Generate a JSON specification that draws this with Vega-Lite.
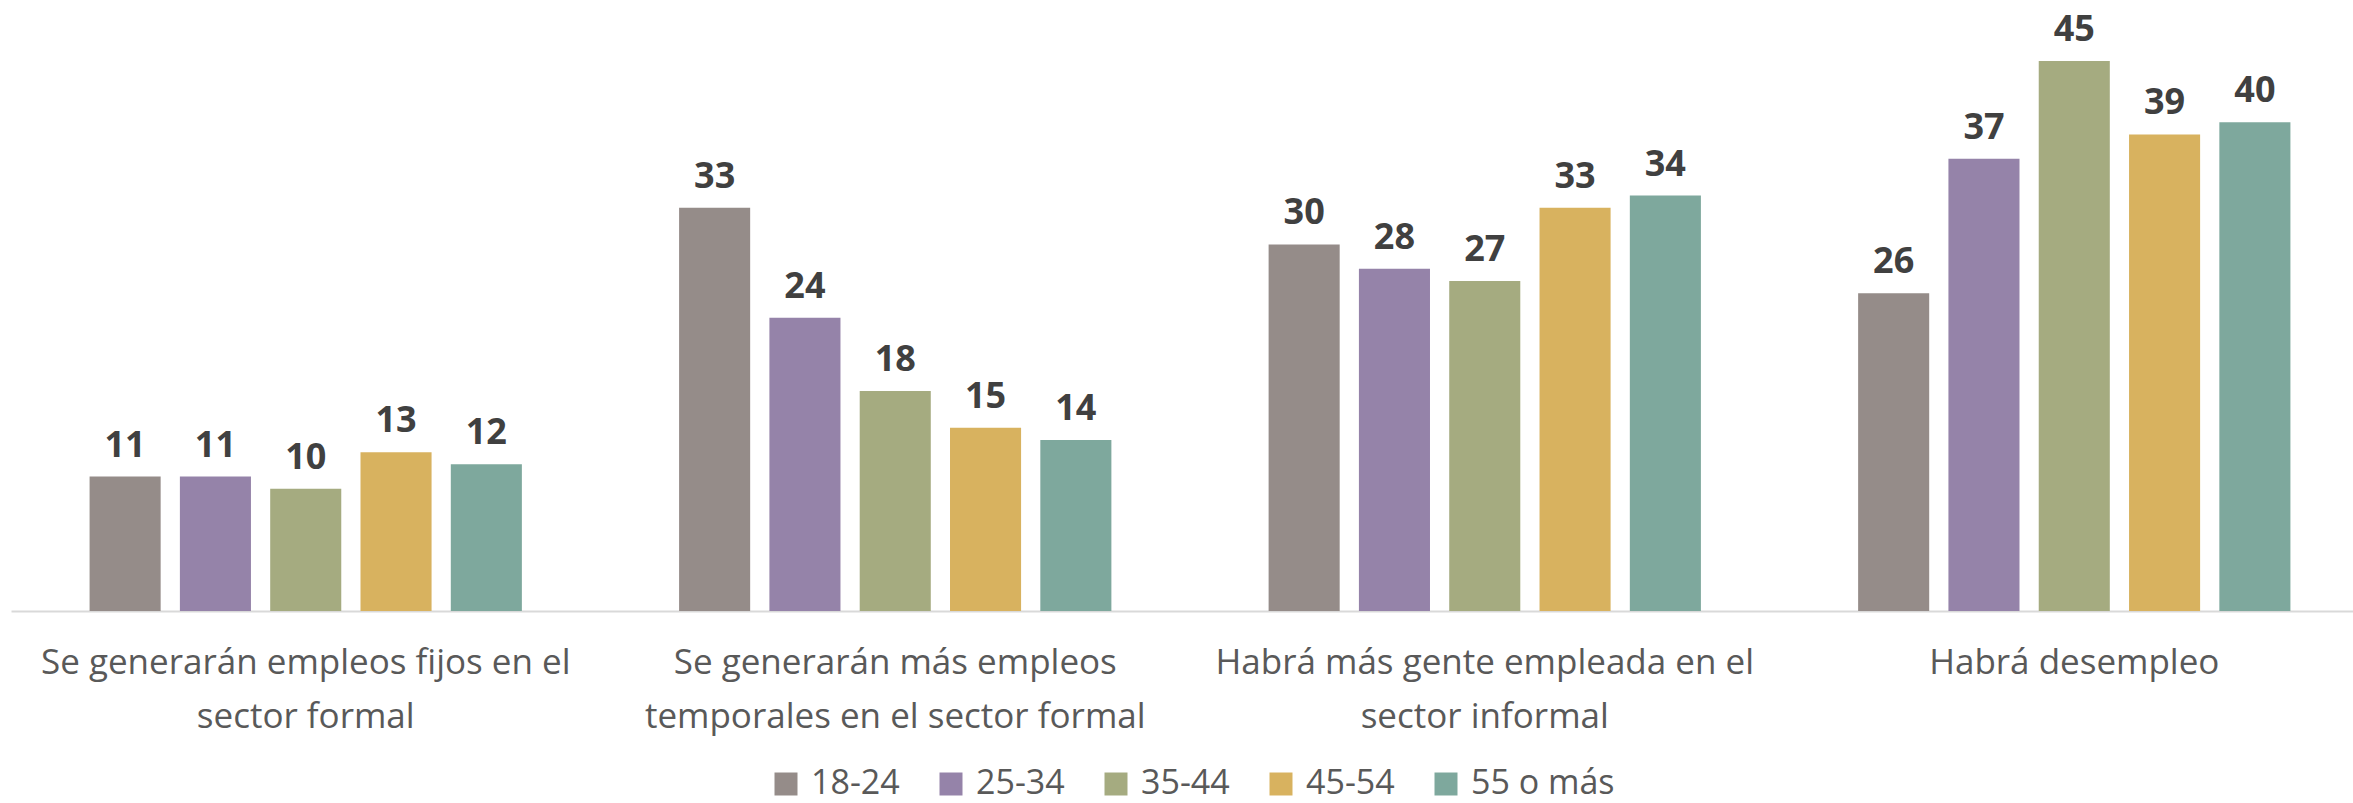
{
  "$schema": "https://vega.github.io/schema/vega-lite/v6.json",
  "width": 2358,
  "height": 611,
  "padding": {"left": 11, "top": 0, "right": 0, "bottom": 0},
  "background": "white",
  "config": {"view": {"stroke": null}, "font": "Open Sans"},
  "data": {
    "values": [
      {"categoria": "Se generarán empleos fijos en el sector formal", "edad": "18-24", "valor": 11},
      {"categoria": "Se generarán empleos fijos en el sector formal", "edad": "25-34", "valor": 11},
      {"categoria": "Se generarán empleos fijos en el sector formal", "edad": "35-44", "valor": 10},
      {"categoria": "Se generarán empleos fijos en el sector formal", "edad": "45-54", "valor": 13},
      {"categoria": "Se generarán empleos fijos en el sector formal", "edad": "55 o más", "valor": 12},
      {"categoria": "Se generarán más empleos temporales en el sector formal", "edad": "18-24", "valor": 33},
      {"categoria": "Se generarán más empleos temporales en el sector formal", "edad": "25-34", "valor": 24},
      {"categoria": "Se generarán más empleos temporales en el sector formal", "edad": "35-44", "valor": 18},
      {"categoria": "Se generarán más empleos temporales en el sector formal", "edad": "45-54", "valor": 15},
      {"categoria": "Se generarán más empleos temporales en el sector formal", "edad": "55 o más", "valor": 14},
      {"categoria": "Habrá más gente empleada en el sector informal", "edad": "18-24", "valor": 30},
      {"categoria": "Habrá más gente empleada en el sector informal", "edad": "25-34", "valor": 28},
      {"categoria": "Habrá más gente empleada en el sector informal", "edad": "35-44", "valor": 27},
      {"categoria": "Habrá más gente empleada en el sector informal", "edad": "45-54", "valor": 33},
      {"categoria": "Habrá más gente empleada en el sector informal", "edad": "55 o más", "valor": 34},
      {"categoria": "Habrá desempleo", "edad": "18-24", "valor": 26},
      {"categoria": "Habrá desempleo", "edad": "25-34", "valor": 37},
      {"categoria": "Habrá desempleo", "edad": "35-44", "valor": 45},
      {"categoria": "Habrá desempleo", "edad": "45-54", "valor": 39},
      {"categoria": "Habrá desempleo", "edad": "55 o más", "valor": 40}
    ]
  },
  "encoding": {
    "x": {
      "field": "categoria",
      "type": "nominal",
      "sort": null,
      "scale": {"paddingInner": 0.2667, "paddingOuter": 0.1333},
      "axis": {
        "title": null,
        "labelAngle": 0,
        "ticks": false,
        "domain": true,
        "domainColor": "#d9d9d9",
        "domainWidth": 2,
        "labelFontSize": 35,
        "labelColor": "#595959",
        "labelPadding": 34,
        "labelLineHeight": 54,
        "labelLimit": 0,
        "labelBaseline": "top",
        "labelExpr": "datum.value == 'Se generarán empleos fijos en el sector formal' ? ['Se generarán empleos fijos en el', 'sector formal'] : datum.value == 'Se generarán más empleos temporales en el sector formal' ? ['Se generarán más empleos', 'temporales en el sector formal'] : datum.value == 'Habrá más gente empleada en el sector informal' ? ['Habrá más gente empleada en el', 'sector informal'] : datum.value"
      }
    },
    "xOffset": {"field": "edad", "type": "nominal", "sort": null, "scale": {"paddingInner": 0.213, "paddingOuter": 0}},
    "y": {"field": "valor", "type": "quantitative", "scale": {"domain": [0, 50]}, "axis": null}
  },
  "layer": [
    {
      "mark": {"type": "bar"},
      "encoding": {
        "color": {
          "field": "edad",
          "type": "nominal",
          "sort": null,
          "scale": {
            "domain": ["18-24", "25-34", "35-44", "45-54", "55 o más"],
            "range": ["#958c89", "#9583a9", "#a5ab80", "#d8b25f", "#7ea89d"]
          },
          "legend": {
            "title": null,
            "orient": "none",
            "direction": "horizontal",
            "legendX": 758,
            "legendY": 767,
            "padding": 0,
            "symbolType": "square",
            "symbolSize": 529,
            "symbolStrokeWidth": 0,
            "labelFontSize": 34,
            "labelColor": "#595959",
            "labelOffset": 8,
            "columnPadding": 34,
            "labelLimit": 0
          }
        }
      }
    },
    {
      "mark": {"type": "text", "baseline": "alphabetic", "dy": -20, "fontSize": 36, "fontWeight": "bold", "color": "#404040"},
      "encoding": {"text": {"field": "valor", "type": "quantitative"}}
    }
  ]
}
